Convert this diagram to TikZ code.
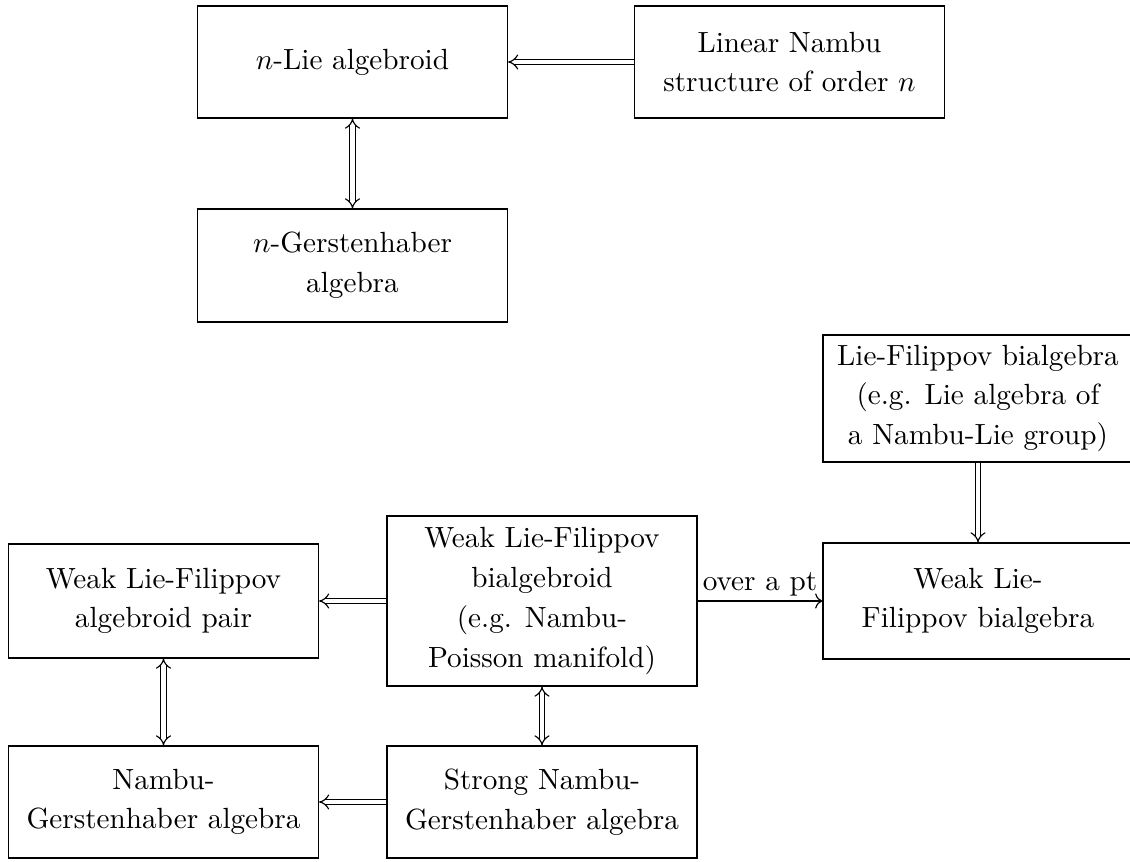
\documentclass[tikz,border=0pt]{standalone}
\usetikzlibrary{arrows.meta}
\def\u{0.3425pt}
\begin{document}
\begin{tikzpicture}[x=\u,y=-\u,
  font={\fontsize{10}{13.6}\selectfont},
  box/.style={draw, align=center, minimum width=310*\u, inner sep=1pt, minimum height=#1*\u},
  imp/.tip={Implies[length=3.4pt, width=5.4pt]},
  dbl/.style={double, double distance=1.4pt, -imp},
  dblboth/.style={double, double distance=1.4pt, imp-imp},
  single/.style={-{To}}]
\useasboundingbox (0,0) rectangle (1130,862);
\node[box=112] (A) at (352.5,62) {$n$-Lie algebroid};
\node[box=112] (B) at (789.5,62) {Linear Nambu\\structure of order $n$};
\node[box=113] (C) at (352.5,265.5) {$n$-Gerstenhaber\\algebra};
\node[box=127] (D) at (978,398.5) {Lie-Filippov bialgebra\\(e.g. Lie algebra of\\a Nambu-Lie group)};
\node[box=114] (E) at (163.5,601) {Weak Lie-Filippov\\algebroid pair};
\node[box=170] (F) at (542,601) {Weak Lie-Filippov\\bialgebroid\\(e.g. Nambu-\\Poisson manifold)};
\node[box=116] (G) at (978,601) {Weak Lie-\\Filippov bialgebra};
\node[box=112] (H) at (163.5,802) {Nambu-\\Gerstenhaber algebra};
\node[box=112] (I) at (542,802) {Strong Nambu-\\Gerstenhaber algebra};
\draw[dbl] (B) -- (A);
\draw[dblboth] (A) -- (C);
\draw[dbl] (D) -- (G);
\draw[dbl] (F) -- (E);
\draw[single] (F) -- node[above, inner sep=1.5pt] (L) {over a pt} (G);
\draw[dblboth] (E) -- (H);
\draw[dblboth] (F) -- (I);
\draw[dbl] (I) -- (H);
\end{tikzpicture}
\end{document}
